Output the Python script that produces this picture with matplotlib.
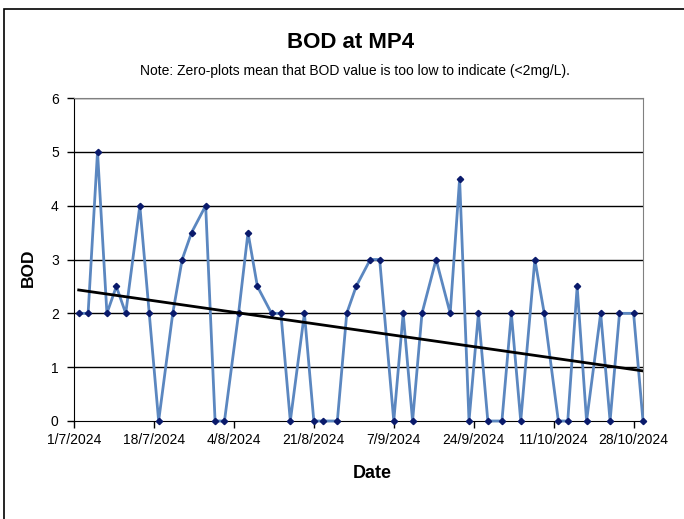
import numpy as np
import pandas as pd
import matplotlib
matplotlib.use('Agg')
import matplotlib.pyplot as plt
from matplotlib.patches import Rectangle

plt.rcParams['font.family'] = ['Liberation Sans', 'DejaVu Sans']

dates = ['2024-07-02', '2024-07-04', '2024-07-06', '2024-07-08', '2024-07-10',
         '2024-07-12', '2024-07-15', '2024-07-17', '2024-07-19', '2024-07-22',
         '2024-07-24', '2024-07-26', '2024-07-29', '2024-07-31', '2024-08-02',
         '2024-08-05', '2024-08-07', '2024-08-09', '2024-08-12', '2024-08-14',
         '2024-08-16', '2024-08-19', '2024-08-21', '2024-08-23', '2024-08-26',
         '2024-08-28', '2024-08-30', '2024-09-02', '2024-09-04', '2024-09-07',
         '2024-09-09', '2024-09-11', '2024-09-13', '2024-09-16', '2024-09-19',
         '2024-09-21', '2024-09-23', '2024-09-25', '2024-09-27', '2024-09-30',
         '2024-10-02', '2024-10-04', '2024-10-07', '2024-10-09', '2024-10-12',
         '2024-10-14', '2024-10-16', '2024-10-18', '2024-10-21', '2024-10-23',
         '2024-10-25', '2024-10-28', '2024-10-30']
bod = [2, 2, 5, 2, 2.5,
       2, 4, 2, 0, 2,
       3, 3.5, 4, 0, 0,
       2, 3.5, 2.5, 2, 2,
       0, 2, 0, 0, 0,
       2, 2.5, 3, 3, 0,
       2, 0, 2, 3, 2,
       4.5, 0, 2, 0, 0,
       2, 0, 3, 2, 0,
       0, 2.5, 0, 2, 0,
       2, 2, 0]

x = pd.to_datetime(dates)
y = np.array(bod)

start = pd.Timestamp('2024-07-01')
end = pd.Timestamp('2024-10-30')
ticks = pd.date_range(start, end, freq='17D')
tick_labels = [f'{d.day}/{d.month}/{d.year}' for d in ticks]

# linear trend over day numbers (as Excel does)
days = (x - start).days.values
k, b = np.polyfit(days, y, 1)
trend_x = x[[0, -1]]
trend_y = k * days[[0, -1]] + b

fig = plt.figure(figsize=(6.84, 5.19), dpi=100)
ax = fig.add_axes([74/684, 1 - 421/519, (643 - 74)/684, (421 - 98)/519])

for v in range(1, 7):
    ax.axhline(v, color='black', lw=1.0, zorder=1)

ax.plot(x, y, color='#5B87C0', lw=2.0, marker='D', ms=3.2,
        mfc='#0A1A6B', mec='#0A1A6B', zorder=3, clip_on=False)
ax.plot(trend_x, trend_y, color='black', lw=2.0, zorder=4)

ax.set_xlim(start, end)
ax.set_ylim(0, 6)
ax.set_yticks(range(0, 7))
ax.set_xticks(ticks)
ax.set_xticklabels(tick_labels)
ax.tick_params(axis='both', labelsize=10, length=5, width=1, direction='out')
ax.tick_params(axis='x', pad=4)
ax.tick_params(axis='y', pad=6)

ax.spines['left'].set_color('black')
ax.spines['bottom'].set_color('black')
ax.spines['top'].set_color('#808080')
ax.spines['right'].set_color('#808080')

fig.text(351/684, 1 - 43/519, 'BOD at MP4', ha='center', va='center',
         fontsize=16, fontweight='bold')
fig.text(355/684, 1 - 71/519,
         'Note: Zero-plots mean that BOD value is too low to indicate (<2mg/L).',
         ha='center', va='center', fontsize=10)
fig.text(28.5/684, 1 - 268/519, 'BOD', ha='center', va='center', rotation=90,
         fontsize=12.5, fontweight='bold')
fig.text(372/684, 1 - 473/519, 'Date', ha='center', va='center',
         fontsize=13, fontweight='bold')

# outer chart-area frame (only left and top edges fall inside the image)
fig.patches.append(Rectangle((4/684, -0.1), 1.2, 1 - 9/519 + 0.1,
                             transform=fig.transFigure, fill=False,
                             ec='black', lw=1.2))

fig.savefig('out.png', dpi=100)
